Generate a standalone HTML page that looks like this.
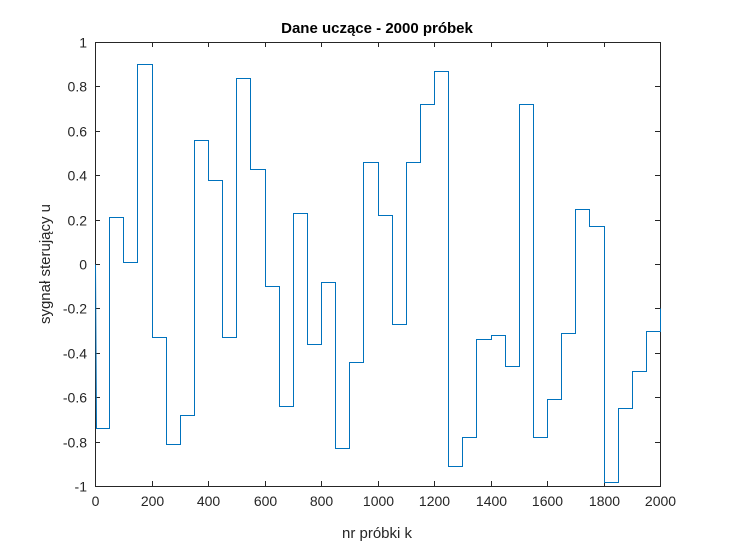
<!DOCTYPE html>
<html><head><meta charset="utf-8"><style>
body{margin:0;background:#fff;width:729px;height:547px;overflow:hidden}
text{font-family:"Liberation Sans",sans-serif}
</style></head><body>
<svg id="chart" width="729" height="547" xmlns="http://www.w3.org/2000/svg">
<rect x="0" y="0" width="729" height="547" fill="#fff"/>
<text x="377" y="33" text-anchor="middle" font-size="15" font-weight="bold" fill="#000">Dane uczące - 2000 próbek</text>
<text x="377" y="538" text-anchor="middle" font-size="15" fill="#262626">nr próbki k</text>
<text transform="translate(50,264) rotate(-90)" text-anchor="middle" font-size="15" fill="#262626">sygnał sterujący u</text>
</svg>
<script>
const segmentStarts=[0,50,100,150,200,250,300,350,400,450,500,550,600,650,700,750,800,850,900,950,1000,1050,1100,1150,1200,1250,1300,1350,1400,1450,1500,1550,1600,1650,1700,1750,1800,1850,1900,1950];
const segmentValues=[-0.74,0.21,0.01,0.90,-0.33,-0.81,-0.68,0.56,0.38,-0.33,0.84,0.43,-0.10,-0.64,0.23,-0.36,-0.08,-0.83,-0.44,0.46,0.22,-0.27,0.46,0.72,0.87,-0.91,-0.78,-0.34,-0.32,-0.46,0.72,-0.78,-0.61,-0.31,0.25,0.17,-0.98,-0.65,-0.48,-0.30];
const startValue=0;
const endValue=-0.20;
const xTicks=[0,200,400,600,800,1000,1200,1400,1600,1800,2000];
const yTicks=[-1,-0.8,-0.6,-0.4,-0.2,0,0.2,0.4,0.6,0.8,1];
const yTickLabels=["-1","-0.8","-0.6","-0.4","-0.2","0","0.2","0.4","0.6","0.8","1"];
const L=95,R=660,T=42,B=486;
const sx=v=>Math.round(L+(v-0)/(2000-0)*(R-L))+0.5;
const sy=v=>Math.round(B-(v+1)/2*(B-T))+0.5;
const svg=document.getElementById('chart');
const NS='http://www.w3.org/2000/svg';
function mk(t,a){const e=document.createElementNS(NS,t);for(const k in a)e.setAttribute(k,a[k]);svg.appendChild(e);return e;}
const box=mk('rect',{x:L+0.5,y:T+0.5,width:R-L,height:B-T,fill:'none',stroke:'#262626','stroke-width':1});


xTicks.forEach(v=>{const x=sx(v);
 const t1=mk('line',{x1:x,x2:x,y1:B,y2:B-5,stroke:'#262626'});
 
 const t2=mk('line',{x1:x,x2:x,y1:T,y2:T+5,stroke:'#262626'});
 
 const tx=mk('text',{x:x,y:B+20,'text-anchor':'middle','font-size':14,fill:'#262626'});tx.textContent=String(v);
 
});
yTicks.forEach((v,i)=>{const y=sy(v);
 const t1=mk('line',{x1:L,x2:L+5,y1:y,y2:y,stroke:'#262626'});
 
 const t2=mk('line',{x1:R,x2:R-5,y1:y,y2:y,stroke:'#262626'});
 
 const tx=mk('text',{x:L-8,y:y+5,'text-anchor':'end','font-size':14,fill:'#262626'});tx.textContent=yTickLabels[i];
 
});
let d='M'+sx(0)+','+sy(startValue)+' L'+sx(5)+','+sy(segmentValues[0]);
segmentStarts.forEach((s,i)=>{
 const e=i+1<segmentStarts.length?segmentStarts[i+1]:2000;
 if(i>0)d+=' L'+sx(s)+','+sy(segmentValues[i]);
 d+=' L'+sx(e)+','+sy(segmentValues[i]);
});
d+=' L'+sx(2000)+','+sy(endValue);
const p=mk('path',{d:d,fill:'none',stroke:'#0072BD','stroke-width':1});


</script>
</body></html>
